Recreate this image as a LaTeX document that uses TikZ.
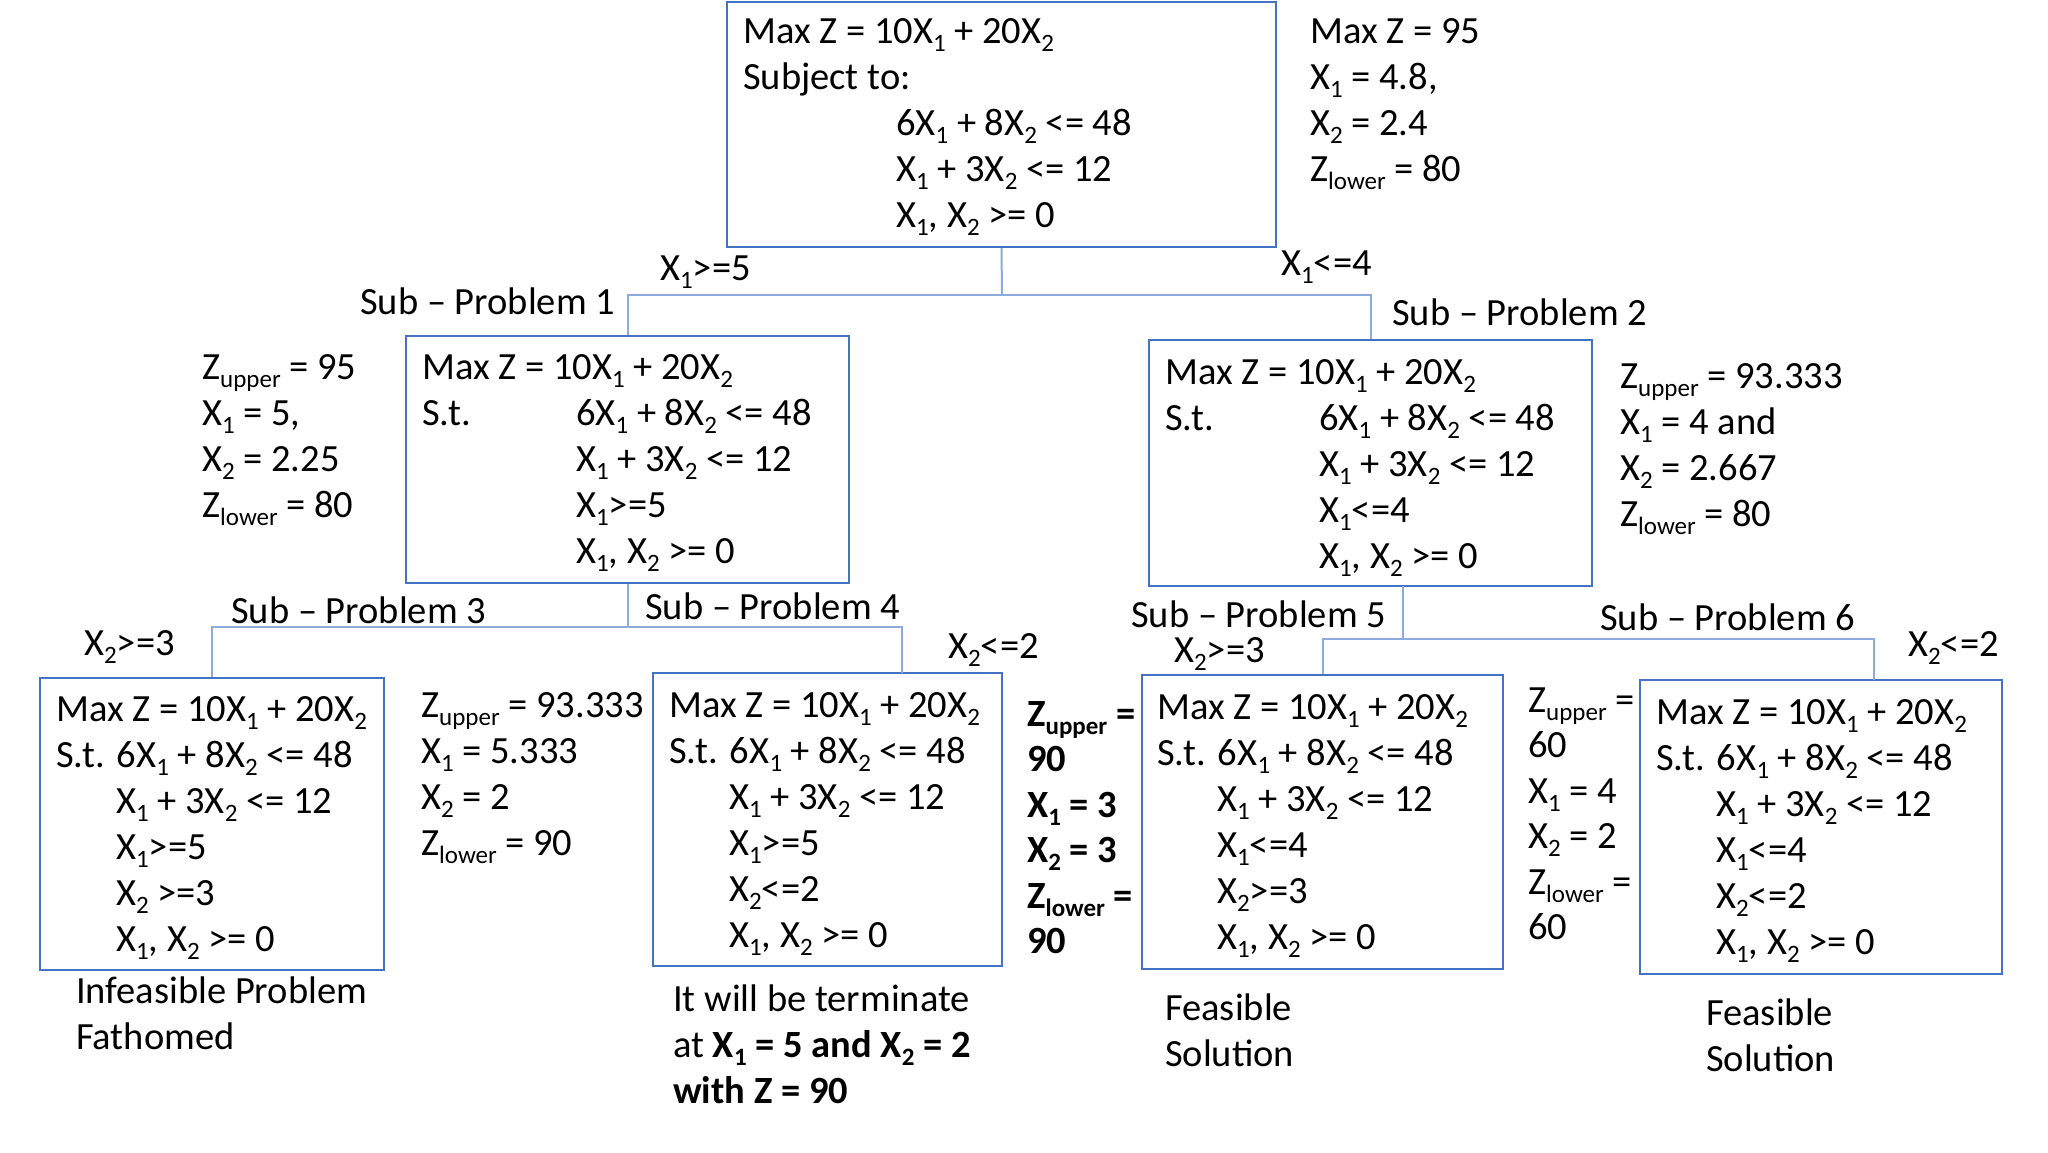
\documentclass[tikz,border=0pt]{standalone}
\usepackage{fontspec}
\setmainfont{Carlito}
\definecolor{boxblue}{HTML}{4472C4}
\definecolor{connblue}{HTML}{8FAADC}
\newcommand\sbx[1]{\raisebox{-0.22em}{\fontsize{25}{25}\selectfont #1}}
\newcommand\blk[1]{\begin{tabular}[t]{@{}l@{}}#1\end{tabular}}
\begin{document}
\begin{tikzpicture}[x=1pt,y=-1pt,
  txt/.style={anchor=base west, inner sep=0pt, font=\fontsize{38.5}{46}\selectfont},
  bx/.style={draw=boxblue, line width=2.2pt, inner sep=0pt},
  conn/.style={draw=connblue, line width=2pt}]
\fill[white] (0,0) rectangle (2048,1152);
\useasboundingbox (0,0) rectangle (2048,1152);

% boxes
\node[bx, minimum width=549pt, minimum height=245pt] (r0) at (1001.5,124.5) {};
\node[bx, minimum width=443pt, minimum height=247pt] (r1) at (627.5,459.5) {};
\node[bx, minimum width=443pt, minimum height=246pt] (r2) at (1370.5,463) {};
\node[bx, minimum width=344pt, minimum height=292pt] (r3) at (212,824) {};
\node[bx, minimum width=349pt, minimum height=293pt] (r4) at (827.5,819.5) {};
\node[bx, minimum width=361pt, minimum height=294pt] (r5) at (1322.5,822) {};
\node[bx, minimum width=362pt, minimum height=294pt] (r6) at (1821,827) {};

% connectors
\coordinate (b0) at (1002,295);
\draw[conn] (r0.south) -- (b0);
\draw[conn] (r1.north) |- (b0 -| r2.north) -- (r2.north);
\coordinate (b1) at (627.5,627);
\coordinate (d4) at (902,673);
\draw[conn] (r1.south) -- (b1);
\draw[conn] (r3.north) |- (b1 -| d4) -- (d4);
\coordinate (s2) at (1403,586);
\coordinate (b2) at (1403,639);
\coordinate (d6) at (1874,680);
\draw[conn] (s2) -- (b2);
\draw[conn] (r5.north) |- (b2 -| d6) -- (d6);

% root
\node[txt] (t0) at (743,43) {\blk{Max Z = 10X\sbx1 + 20X\sbx2\\
Subject to:\\
\hspace*{153pt}6X\sbx1 + 8X\sbx2 <= 48\\
\hspace*{153pt}X\sbx1 + 3X\sbx2 <= 12\\
\hspace*{153pt}X\sbx1, X\sbx2 >= 0}};
\node[txt] (i0) at (1310,43) {\blk{Max Z = 95\\ X\sbx1 = 4.8,\\ X\sbx2 = 2.4\\ Z\sbx{lower} = 80}};

% branch labels level 1
\node[txt] (l1) at (660,280) {X\sbx1>=5};
\node[txt] (l2) at (1281,275) {X\sbx1<=4};
\node[txt] (p1) at (360,314) {Sub – Problem 1};
\node[txt] (p2) at (1392,325) {Sub – Problem 2};

% sub-problem 1
\node[txt] (t1) at (422,379) {\blk{Max Z = 10X\sbx1 + 20X\sbx2\\
\makebox[154pt][l]{S.t.}6X\sbx1 + 8X\sbx2 <= 48\\
\hspace*{154pt}X\sbx1 + 3X\sbx2 <= 12\\
\hspace*{154pt}X\sbx1>=5\\
\hspace*{154pt}X\sbx1, X\sbx2 >= 0}};
\node[txt] (i1) at (202,379) {\blk{Z\sbx{upper} = 95\\ X\sbx1 = 5,\\ X\sbx2 = 2.25\\ Z\sbx{lower} = 80}};

% sub-problem 2
\node[txt] (t2) at (1165,384) {\blk{Max Z = 10X\sbx1 + 20X\sbx2\\
\makebox[154pt][l]{S.t.}6X\sbx1 + 8X\sbx2 <= 48\\
\hspace*{154pt}X\sbx1 + 3X\sbx2 <= 12\\
\hspace*{154pt}X\sbx1<=4\\
\hspace*{154pt}X\sbx1, X\sbx2 >= 0}};
\node[txt] (i2) at (1620,388) {\blk{Z\sbx{upper} = 93.333\\ X\sbx1 = 4 and\\ X\sbx2 = 2.667\\ Z\sbx{lower} = 80}};

% level 2 labels
\node[txt] (p3) at (231,623) {Sub – Problem 3};
\node[txt] (p4) at (645,619) {Sub – Problem 4};
\node[txt] (l3) at (84,655) {X\sbx2>=3};
\node[txt] (l4) at (948,658) {X\sbx2<=2};
\node[txt] (p5) at (1131,627) {Sub – Problem 5};
\node[txt] (l5) at (1174,662) {X\sbx2>=3};
\node[txt] (p6) at (1600,630) {Sub – Problem 6};
\node[txt] (l6) at (1908,656) {X\sbx2<=2};

% sub-problem 3
\node[txt] (t3) at (56,721) {\blk{Max Z = 10X\sbx1 + 20X\sbx2\\
S.t. 6X\sbx1 + 8X\sbx2 <= 48\\
\hspace*{60pt}X\sbx1 + 3X\sbx2 <= 12\\
\hspace*{60pt}X\sbx1>=5\\
\hspace*{60pt}X\sbx2 >=3\\
\hspace*{60pt}X\sbx1, X\sbx2 >= 0}};
\node[txt] (n3) at (76,1003) {\blk{Infeasible Problem\\ Fathomed}};
\node[txt] (i3) at (421,717) {\blk{Z\sbx{upper} = 93.333\\ X\sbx1 = 5.333\\ X\sbx2 = 2\\ Z\sbx{lower} = 90}};

% sub-problem 4
\node[txt] (t4) at (669,717) {\blk{Max Z = 10X\sbx1 + 20X\sbx2\\
S.t. 6X\sbx1 + 8X\sbx2 <= 48\\
\hspace*{60pt}X\sbx1 + 3X\sbx2 <= 12\\
\hspace*{60pt}X\sbx1>=5\\
\hspace*{60pt}X\sbx2<=2\\
\hspace*{60pt}X\sbx1, X\sbx2 >= 0}};
\node[txt] (n4) at (673,1011) {\blk{It will be terminate\\ at \textbf{X\sbx1 = 5 and X\sbx2 = 2}\\ \textbf{with Z = 90}}};
\node[txt, font=\fontsize{38.5}{45.5}\selectfont\bfseries] (i4) at (1027,726) {\blk{Z\sbx{upper} =\\ 90\\ X\sbx1 = 3\\ X\sbx2 = 3\\ Z\sbx{lower} =\\ 90}};

% sub-problem 5
\node[txt] (t5) at (1157,719) {\blk{Max Z = 10X\sbx1 + 20X\sbx2\\
S.t. 6X\sbx1 + 8X\sbx2 <= 48\\
\hspace*{60pt}X\sbx1 + 3X\sbx2 <= 12\\
\hspace*{60pt}X\sbx1<=4\\
\hspace*{60pt}X\sbx2>=3\\
\hspace*{60pt}X\sbx1, X\sbx2 >= 0}};
\node[txt] (n5) at (1165,1020) {\blk{Feasible\\ Solution}};
\node[txt, font=\fontsize{38.5}{45.5}\selectfont] (i5) at (1528,712) {\blk{Z\sbx{upper} =\\ 60\\ X\sbx1 = 4\\ X\sbx2 = 2\\ Z\sbx{lower} =\\ 60}};

% sub-problem 6
\node[txt] (t6) at (1656,724) {\blk{Max Z = 10X\sbx1 + 20X\sbx2\\
S.t. 6X\sbx1 + 8X\sbx2 <= 48\\
\hspace*{60pt}X\sbx1 + 3X\sbx2 <= 12\\
\hspace*{60pt}X\sbx1<=4\\
\hspace*{60pt}X\sbx2<=2\\
\hspace*{60pt}X\sbx1, X\sbx2 >= 0}};
\node[txt] (n6) at (1706,1025) {\blk{Feasible\\ Solution}};
\end{tikzpicture}
\end{document}
